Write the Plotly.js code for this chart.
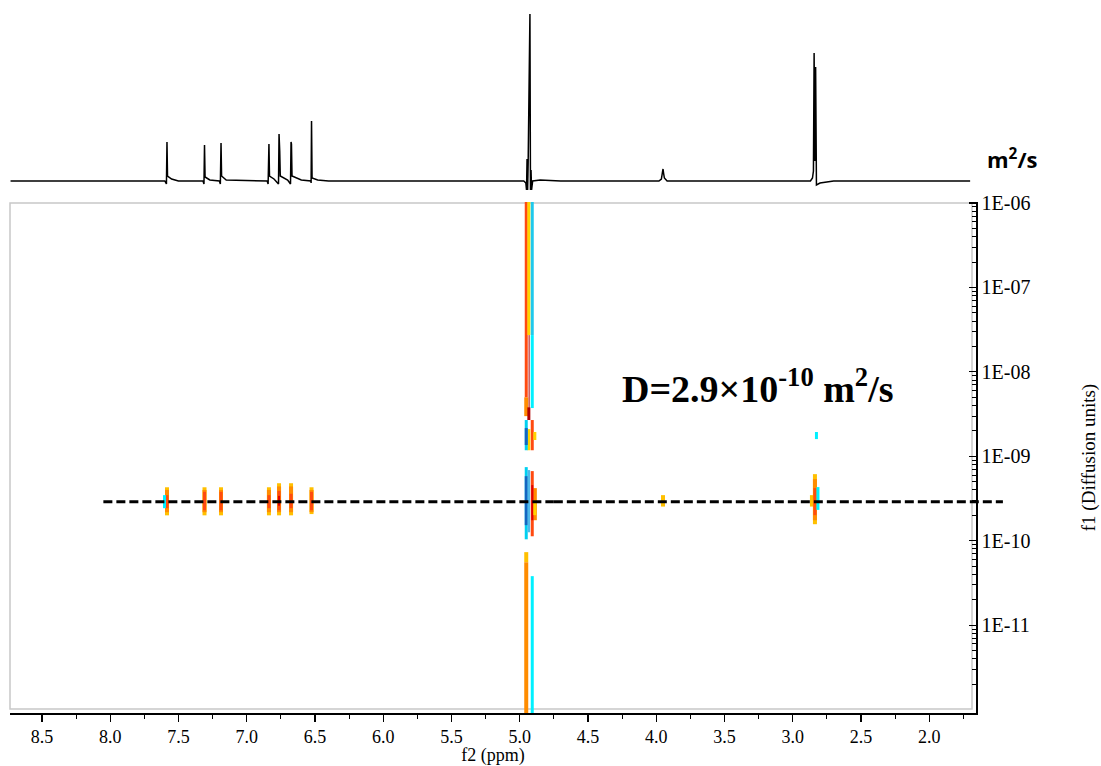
<!DOCTYPE html>
<html>
<head>
<meta charset="utf-8">
<script src="https://cdn.plot.ly/plotly-3.0.1.min.js"></script>
<style>html,body{margin:0;padding:0;background:#fff;}#chart{width:1101px;height:766px;}</style>
</head>
<body>
<div id="chart"></div>
<script>
// ---- 1D projection spectrum (f2, ppm vs intensity) ----
const specPpm = [8.73, 7.60, 7.588, 7.584, 7.580, 7.55, 7.50,
  7.32, 7.313, 7.309, 7.305, 7.27, 7.20, 7.193, 7.188, 7.184, 7.15,
  6.85, 6.843, 6.840, 6.837, 6.833, 6.80, 6.767, 6.763, 6.758, 6.754, 6.70,
  6.679, 6.675, 6.672, 6.668, 6.60, 6.53, 6.528, 6.525, 6.521, 6.48, 6.40,
  4.97, 4.955, 4.950, 4.946, 4.942, 4.938, 4.925, 4.921, 4.917, 4.913, 4.905, 4.85, 4.70,
  3.98, 3.962, 3.955, 3.950, 3.946, 3.94, 3.92,
  2.87, 2.855, 2.848, 2.843, 2.838, 2.832, 2.826, 2.80, 2.75, 2.70, 1.70];
const specInt = [0, 0, -3, 39, 5, 2, 0,
  0, -3, 36, 4, 1, 0, -3, 38, 5, 1,
  0, -3, 35, 37, 5, 2, -3, 47, 30, 5, 1,
  -3, 39, 37, 5, 1, 0, -2, 60, 3, 1, 0,
  0, -2, -9, 22, -9, 18, 167, -9, 11, -9, 0, 1, 0,
  0, 2, 8, 12, 8, 3, 0,
  0, 3, 10, 128, 20, 114, -4, -2, -1, 0, 0];

// ---- DOSY cross peaks: [f2 ppm, D low (m2/s), D high (m2/s)] ----
const segYellow = [
  [7.584, 2.0e-10, 4.3e-10], [7.309, 2.0e-10, 4.3e-10], [7.188, 2.0e-10, 4.3e-10],
  [6.837, 2.0e-10, 4.3e-10], [6.763, 2.0e-10, 4.8e-10], [6.675, 2.0e-10, 4.8e-10],
  [6.525, 2.07e-10, 4.3e-10], [3.950, 2.54e-10, 3.47e-10], [2.837, 1.57e-10, 6.15e-10],
  [2.859, 2.54e-10, 3.47e-10], [4.952, 5.57e-11, 7.33e-11]];
const segOrange = [
  [7.584, 2.18e-10, 4.0e-10], [7.309, 2.18e-10, 4.0e-10], [7.188, 2.18e-10, 4.0e-10],
  [6.837, 2.18e-10, 4.0e-10], [6.763, 2.18e-10, 4.4e-10], [6.675, 2.18e-10, 4.4e-10],
  [6.525, 2.18e-10, 4.0e-10], [2.837, 1.75e-10, 5.37e-10],
  [4.952, 8.0e-13, 5.57e-11], [4.952, 2.99e-9, 5.0e-9], [4.889, 1.75e-10, 4.2e-10]];
const segRedOrange = [
  [7.584, 2.43e-10, 3.47e-10], [7.309, 2.3e-10, 3.8e-10], [7.188, 2.3e-10, 3.8e-10],
  [6.837, 2.43e-10, 3.47e-10], [6.763, 2.3e-10, 3.9e-10], [6.675, 2.43e-10, 3.6e-10],
  [6.525, 2.3e-10, 3.8e-10], [4.952, 5.0e-9, 1.2e-6], [4.908, 1.18e-9, 2.69e-9],
  [4.908, 1.13e-10, 6.68e-10], [2.837, 2.01e-10, 4.2e-10]];
const segRed = [[4.908, 1.75e-10, 4.56e-10], [6.763, 2.6e-10, 3.4e-10]];
const segDarkRed = [[4.933, 2.69e-9, 3.8e-9]];
const segDarkRedThin = [[4.931, 3.6e-9, 2.73e-8]];
const segGold = [[4.933, 2.73e-8, 1.2e-6], [4.933, 1.18e-9, 2.1e-9],
  [4.889, 1.56e-9, 1.94e-9], [4.889, 2.01e-10, 3.03e-10]];
const segSky = [[4.908, 2.73e-8, 1.2e-6]];
const segCyan = [[4.908, 3.73e-9, 2.73e-8], [4.908, 8.0e-13, 3.81e-11],
  [2.826, 1.6e-9, 1.94e-9], [2.815, 2.32e-10, 4.32e-10], [7.602, 2.43e-10, 3.47e-10]];
const segAqua = [[4.952, 1.18e-9, 2.69e-9], [4.952, 1.04e-10, 7.45e-10]];
const segBlue = [[4.952, 1.36e-9, 2.16e-9], [4.952, 1.53e-10, 5.82e-10]];
const segLightBlue = [[4.933, 1.26e-10, 6.87e-10]];

const diffD = 2.9e-10;                 // fitted diffusion coefficient (dashed line)
const dashPieces = [[8.05, 4.75], [4.75, 1.46]];  // ppm extent of the dashed guide

// ---- axis tick labels ----
const yTickVals = [1e-6, 1e-7, 1e-8, 1e-9, 1e-10, 1e-11];
const yTickText = ['1E-06', '1E-07', '1E-08', '1E-09', '1E-10', '1E-11'];
const minorMant = [2, 3, 4, 5, 6, 7, 8, 9];
const minorDecades = [1e-12, 1e-11, 1e-10, 1e-9, 1e-8, 1e-7];

const yMinor = [];
minorDecades.forEach(d => minorMant.forEach(m => yMinor.push(m * d)));

function segTrace(segs, color, width) {
  const x = [], y = [];
  segs.forEach(s => { x.push(s[0], s[0], null); y.push(s[1], s[2], null); });
  return {type: 'scatter', mode: 'lines', x: x, y: y, xaxis: 'x', yaxis: 'y',
    line: {color: color, width: width}, hoverinfo: 'skip', showlegend: false};
}

const serif = "'Liberation Serif', 'Times New Roman', serif";

const W = 1101, H = 766;
const L = 10, R = 1010, T = 0, B = 713;   // paper region in pixels
const axisRight = 976;                    // pixel of the right (f1) axis
const pw = R - L, ph = B - T;
const px = v => (v - L) / pw;
const py = v => (B - v) / ph;

const pxPerPpm = 136.5;
const xLeft = 8.734;
const xRange = [xLeft, xLeft - (axisRight - L) / pxPerPpm];
const xRangeWide = [xLeft, xLeft - (R - L) / pxPerPpm];
const yRange = [-12.04, -5.988];

const traces = [
  {type: 'scatter', mode: 'lines', x: specPpm, y: specInt, xaxis: 'x2', yaxis: 'y2',
    line: {color: '#000', width: 1.5}, hoverinfo: 'skip', showlegend: false},
  segTrace(segYellow, '#ffc000', 4),
  segTrace(segOrange, '#ff8c00', 4),
  segTrace(segRedOrange, '#ff4a10', 3),
  segTrace(segRed, '#e00000', 2),
  segTrace(segDarkRed, '#b00000', 3),
  segTrace(segDarkRedThin, '#b00000', 1),
  segTrace(segGold, '#ffd400', 3),
  segTrace(segSky, '#1ec8ec', 3),
  segTrace(segCyan, '#00f0ff', 3),
  segTrace(segAqua, '#00d0f0', 3),
  segTrace(segBlue, '#1565c0', 3),
  segTrace(segLightBlue, '#4fb8e8', 2.5)
];
dashPieces.forEach(p => traces.push(
  {type: 'scatter', mode: 'lines', x: p, y: [diffD, diffD], xaxis: 'x3', yaxis: 'y3',
    line: {color: '#000', width: 3, dash: '9px,4px'}, hoverinfo: 'skip', showlegend: false}));

const layout = {
  width: W, height: H,
  margin: {l: L, r: W - R, t: T, b: H - B, pad: 0},
  paper_bgcolor: '#fff', plot_bgcolor: 'rgba(0,0,0,0)',
  showlegend: false,
  xaxis: {
    domain: [0, px(axisRight)], anchor: 'y', range: xRange,
    showline: true, linecolor: '#000', linewidth: 1.5,
    ticks: 'outside', ticklen: 7, tickwidth: 1.2, tickcolor: '#000',
    tick0: 0, dtick: 0.5, tickformat: '.1f',
    tickfont: {family: serif, size: 18, color: '#000'},
    minor: {dtick: 0.25, tick0: 0, ticks: 'outside', ticklen: 4, tickwidth: 1, tickcolor: '#000', showgrid: false},
    showgrid: false, zeroline: false,
    title: {text: 'f2 (ppm)', font: {family: serif, size: 18, color: '#000'}, standoff: 4}
  },
  yaxis: {
    domain: [0, py(202)], anchor: 'x', side: 'right', type: 'log',
    range: yRange,
    showline: true, linecolor: '#000', linewidth: 1.5,
    ticks: 'inside', ticklen: 7, tickwidth: 1.2, tickcolor: '#000',
    tickmode: 'array', tickvals: yTickVals, ticktext: yTickText,
    tickfont: {family: serif, size: 20, color: '#000'},
    minor: {tickmode: 'array', tickvals: yMinor, ticks: 'inside', ticklen: 4, tickwidth: 1, tickcolor: '#000', showgrid: false},
    showgrid: false, zeroline: false,
    title: {text: 'f1 (Diffusion units)', font: {family: serif, size: 19, color: '#000'}, standoff: 52}
  },
  xaxis2: {domain: [0, px(axisRight)], matches: 'x', anchor: 'y2', visible: false, range: xRange},
  yaxis2: {domain: [py(195), 1], anchor: 'x2', range: [-14, 181], visible: false},
  xaxis3: {domain: [0, 1], anchor: 'y3', range: xRangeWide, visible: false},
  yaxis3: {domain: [0, py(202)], anchor: 'x3', type: 'log', range: yRange, visible: false},
  shapes: [
    {type: 'rect', xref: 'paper', yref: 'paper', x0: 0, x1: px(972), y0: py(709), y1: py(203),
      line: {color: '#c8c8c8', width: 1.5}, fillcolor: 'rgba(0,0,0,0)', layer: 'below'}
  ],
  annotations: [
    {xref: 'paper', yref: 'paper', x: px(758), y: py(386), xanchor: 'center', yanchor: 'middle', showarrow: false,
      text: '<b>D=2.9×10<sup>-10</sup> m<sup>2</sup>/s</b>',
      font: {family: serif, size: 38, color: '#000'}},
    {xref: 'paper', yref: 'paper', x: px(1013), y: py(158), xanchor: 'center', yanchor: 'middle', showarrow: false,
      text: '<b>m<sup>2</sup>/s</b>',
      font: {family: "'Open Sans', sans-serif", size: 22, color: '#000'}}
  ]
};

Plotly.newPlot('chart', traces, layout, {staticPlot: true, displayModeBar: false});
</script>
</body>
</html>
